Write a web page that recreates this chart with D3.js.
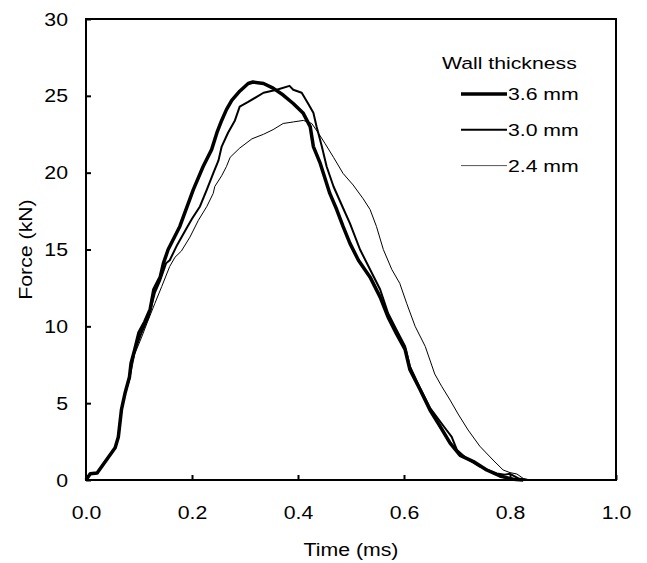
<!DOCTYPE html>
<html>
<head>
<meta charset="utf-8">
<script src="https://cdn.jsdelivr.net/npm/d3@7"></script>
<style>
  body { margin: 0; background: #fff; }
  svg { display: block; font-family: "Liberation Sans", Arial, sans-serif; }
</style>
</head>
<body>
<div id="chart"></div>
<script>
// Force-time curves
const time36 = [0, 0.008, 0.021, 0.055, 0.061, 0.067, 0.074, 0.082, 0.085, 0.092, 0.100, 0.111, 0.121, 0.128, 0.140, 0.146, 0.155, 0.177, 0.2025, 0.221, 0.237, 0.247, 0.256, 0.265, 0.275, 0.290, 0.306, 0.315, 0.335, 0.353, 0.372, 0.391, 0.410, 0.423, 0.429, 0.442, 0.448, 0.460, 0.473, 0.485, 0.498, 0.514, 0.536, 0.555, 0.570, 0.586, 0.602, 0.611, 0.630, 0.649, 0.668, 0.687, 0.706, 0.731, 0.756, 0.781, 0.806, 0.825];
const force36 = [0, 0.4, 0.45, 2.1, 2.8, 4.6, 5.7, 6.7, 7.6, 8.5, 9.6, 10.3, 11.1, 12.4, 13.2, 14.1, 15.0, 16.5, 18.9, 20.4, 21.5, 22.6, 23.4, 24.1, 24.7, 25.3, 25.8, 25.9, 25.8, 25.5, 25.05, 24.5, 23.86, 23.0, 21.7, 20.6, 19.95, 18.65, 17.6, 16.5, 15.4, 14.3, 13.2, 11.9, 10.6, 9.5, 8.5, 7.2, 5.9, 4.55, 3.5, 2.4, 1.6, 1.2, 0.65, 0.26, 0.05, 0];

const time30 = [0, 0.008, 0.021, 0.055, 0.061, 0.067, 0.074, 0.082, 0.085, 0.092, 0.105, 0.118, 0.130, 0.140, 0.151, 0.158, 0.172, 0.190, 0.200, 0.215, 0.228, 0.240, 0.250, 0.256, 0.268, 0.281, 0.290, 0.306, 0.335, 0.360, 0.384, 0.391, 0.407, 0.419, 0.429, 0.435, 0.445, 0.454, 0.467, 0.485, 0.498, 0.517, 0.536, 0.555, 0.570, 0.586, 0.602, 0.611, 0.630, 0.649, 0.677, 0.690, 0.700, 0.718, 0.743, 0.775, 0.790, 0.800, 0.816, 0.832];
const force30 = [0, 0.4, 0.45, 2.1, 2.8, 4.6, 5.7, 6.6, 7.5, 8.4, 9.6, 10.6, 12.2, 13.0, 14.1, 14.3, 15.3, 16.4, 17.0, 17.8, 18.9, 19.95, 20.8, 21.7, 22.6, 23.4, 24.3, 24.6, 25.2, 25.4, 25.65, 25.4, 25.2, 24.5, 23.9, 23.0, 21.7, 20.4, 19.1, 17.7, 16.7, 15.0, 13.7, 12.4, 10.85, 9.76, 8.7, 7.4, 6.0, 4.7, 3.4, 2.8, 1.95, 1.4, 0.87, 0.43, 0.35, 0.4, 0.1, 0];

const time24 = [0, 0.008, 0.021, 0.055, 0.061, 0.067, 0.074, 0.082, 0.092, 0.105, 0.115, 0.130, 0.143, 0.158, 0.168, 0.180, 0.196, 0.212, 0.228, 0.240, 0.243, 0.256, 0.265, 0.272, 0.290, 0.313, 0.335, 0.353, 0.372, 0.391, 0.410, 0.426, 0.438, 0.451, 0.467, 0.485, 0.504, 0.523, 0.536, 0.548, 0.561, 0.577, 0.592, 0.605, 0.621, 0.640, 0.658, 0.671, 0.687, 0.702, 0.721, 0.743, 0.768, 0.787, 0.800, 0.813, 0.825, 0.838];
const force24 = [0, 0.4, 0.45, 2.1, 2.8, 4.5, 5.6, 6.5, 8.2, 9.3, 10.2, 11.5, 12.6, 13.9, 14.5, 14.9, 15.8, 16.9, 17.8, 18.65, 19.1, 19.8, 20.4, 21.0, 21.6, 22.2, 22.5, 22.8, 23.2, 23.3, 23.4, 23.2, 22.6, 21.9, 21.0, 19.95, 19.2, 18.3, 17.6, 16.5, 15.0, 13.7, 12.8, 11.5, 10.0, 8.7, 6.9, 6.1, 5.2, 4.3, 3.25, 2.2, 1.3, 0.65, 0.48, 0.39, 0.1, 0];

const seriesNames = ["3.6 mm", "3.0 mm", "2.4 mm"];
const xTicks = [0, 0.2, 0.4, 0.6, 0.8, 1.0];
const yTicks = [0, 5, 10, 15, 20, 25, 30];

const series = [
  {name: seriesNames[0], width: 3.5, values: time36.map((t, i) => ({t: t, f: force36[i]}))},
  {name: seriesNames[1], width: 2, values: time30.map((t, i) => ({t: t, f: force30[i]}))},
  {name: seriesNames[2], width: 1, values: time24.map((t, i) => ({t: t, f: force24[i]}))}
];

const W = 647, H = 563;
const margin = {top: 19, right: 31, bottom: 83, left: 86};
const width = W - margin.left - margin.right;
const height = H - margin.top - margin.bottom;

// the text in the picture is a bit wider than the font, so stretch it sideways
const tickScale = 1.12, textScale = 1.22;

const svg = d3.select("#chart")
  .append("svg")
  .attr("width", W)
  .attr("height", H);

const g = svg.append("g")
  .attr("transform", `translate(${margin.left},${margin.top})`);

const x = d3.scaleLinear().domain([0, 1]).range([0, width]);
const y = d3.scaleLinear().domain([0, 30]).range([height, 0]);

// curves
const line = d3.line()
  .x(d => x(d.t))
  .y(d => y(d.f));

series.slice().reverse().forEach(s => {
  g.append("path")
    .datum(s.values)
    .attr("fill", "none")
    .attr("stroke", "#000")
    .attr("stroke-width", s.width)
    .attr("stroke-linejoin", "round")
    .attr("d", line);
});

// axes with inward ticks
const xAxis = g.append("g")
  .attr("transform", `translate(0,${height})`)
  .call(d3.axisBottom(x).tickValues(xTicks).tickSizeInner(-5).tickSizeOuter(0).tickPadding(26).tickFormat(d3.format(".1f")));

const yAxis = g.append("g")
  .call(d3.axisLeft(y).tickValues(yTicks).tickSizeInner(-5).tickSizeOuter(0).tickPadding(18));

[xAxis, yAxis].forEach(a => {
  a.select(".domain").remove();
  a.selectAll(".tick line").attr("stroke", "#000").attr("stroke-width", 2);
  a.selectAll("text")
    .attr("font-family", "Liberation Sans, Arial, sans-serif")
    .attr("font-size", 19)
    .attr("fill", "#000")
    .attr("transform", `scale(${tickScale},1)`);
});
yAxis.selectAll("text").attr("x", -18 / tickScale);

// frame
g.append("rect")
  .attr("width", width)
  .attr("height", height)
  .attr("fill", "none")
  .attr("stroke", "#000")
  .attr("stroke-width", 2);

// axis titles
svg.append("text")
  .attr("transform", `translate(${margin.left + width / 2},556) scale(${tickScale},1)`)
  .attr("text-anchor", "middle")
  .attr("font-size", 19)
  .text("Time (ms)");

svg.append("text")
  .attr("transform", `translate(32,${margin.top + height / 2}) rotate(-90) scale(${tickScale},1)`)
  .attr("text-anchor", "middle")
  .attr("font-size", 19)
  .text("Force (kN)");

// legend
const legend = svg.append("g");
legend.append("text")
  .attr("transform", `translate(442,69) scale(${textScale},1)`)
  .attr("font-size", 17.4)
  .text("Wall thickness");

const rows = legend.selectAll("g.row")
  .data(series)
  .enter().append("g")
  .attr("class", "row")
  .attr("transform", (d, i) => `translate(0,${94 + i * 35.8})`);

rows.append("line")
  .attr("x1", 461)
  .attr("x2", 507)
  .attr("stroke", d => d.width < 1.5 ? "#555" : "#000")
  .attr("stroke-width", d => d.width);

rows.append("text")
  .attr("transform", `translate(508,6) scale(${textScale},1)`)
  .attr("font-size", 17.4)
  .text(d => d.name);
</script>
</body>
</html>
